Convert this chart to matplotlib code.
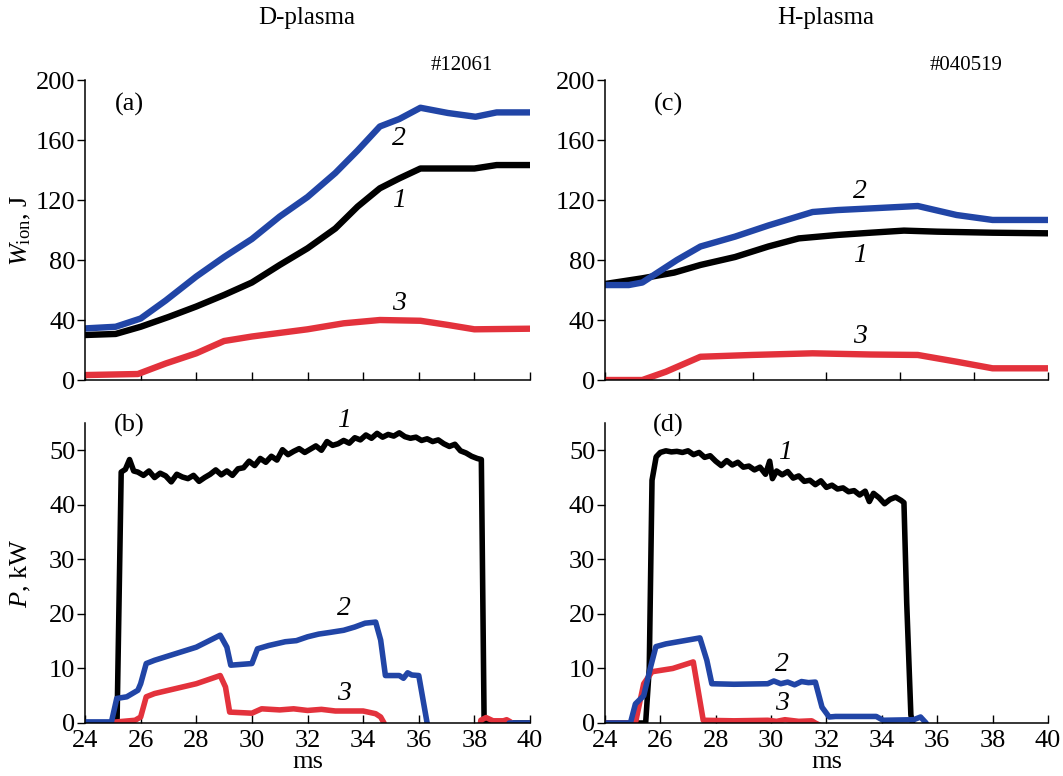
import numpy as np
import matplotlib
matplotlib.use("Agg")
import matplotlib.pyplot as plt

plt.rcParams['font.family'] = ['Liberation Serif', 'DejaVu Serif']
plt.rcParams['mathtext.fontset'] = 'custom'
plt.rcParams['mathtext.rm'] = 'Liberation Serif'
plt.rcParams['mathtext.it'] = 'Liberation Serif:italic'

BLUE = '#2145a6'
RED = '#e3323c'
BLACK = 'black'

#%% (a) D-plasma, ion energy content
a_t1 = [24, 25.1, 26, 27, 28, 29, 30, 31, 32, 33, 33.8, 34.6, 35.3, 36.06, 38, 38.8, 40]
a_w1 = [30, 30.7, 35.5, 42, 49, 56.7, 65, 76.7, 87.8, 101, 115.6, 127.8, 134.4, 141, 141, 143.3, 143.3]
a_t2 = [24, 25.1, 26, 26.9, 28, 29, 30, 31, 32, 33, 33.8, 34.6, 35.3, 36.06, 37.05, 38.04, 38.8, 40]
a_w2 = [34.4, 35.5, 41, 53, 69, 82, 94, 109, 122, 138, 153, 169, 174, 181.5, 178, 175.5, 178.4, 178.4]
a_t3 = [24, 25.9, 26.9, 28, 29, 30, 32, 33.3, 34.6, 36.06, 37.05, 38, 40]
a_w3 = [3.3, 4, 11, 17.8, 26, 29, 33.8, 37.8, 40, 39.5, 36.7, 33.8, 34.2]

#%% (c) H-plasma, ion energy content
c_t1 = [24, 25.35, 26.5, 27.45, 28.7, 29.9, 31, 32.4, 33.6, 34.8, 36, 38, 40]
c_w1 = [64, 67.8, 71.6, 76.7, 82, 89, 94.4, 96.7, 98.2, 99.6, 98.9, 98.2, 97.8]
c_t2 = [24, 24.86, 25.35, 25.85, 26.6, 27.45, 28.7, 29.9, 31.5, 32.4, 33.6, 35.3, 36.7, 38, 40]
c_w2 = [63.3, 63.3, 65, 71, 80, 89, 95.6, 103, 112, 113.3, 114.4, 116, 110, 106.7, 106.7]
c_t3 = [24, 25.35, 26.2, 27.45, 29.3, 31.5, 33.6, 35.3, 36.7, 38, 40]
c_w3 = [0, 0, 5.5, 15.5, 16.7, 17.8, 17, 16.7, 12.2, 7.8, 7.8]

#%% (b) D-plasma, power
b_t1 = [24.0, 25.15, 25.3, 25.45, 25.6, 25.75, 25.9, 26.1, 26.3, 26.5,
        26.7, 26.9, 27.1, 27.3, 27.5, 27.7, 27.9, 28.1, 28.3, 28.5,
        28.7, 28.9, 29.1, 29.3, 29.5, 29.7, 29.9, 30.1, 30.3, 30.5,
        30.7, 30.9, 31.1, 31.3, 31.5, 31.7, 31.9, 32.1, 32.3, 32.5,
        32.7, 32.9, 33.1, 33.3, 33.5, 33.7, 33.9, 34.1, 34.3, 34.5,
        34.7, 34.9, 35.1, 35.3, 35.5, 35.7, 35.9, 36.1, 36.3, 36.5,
        36.7, 36.9, 37.1, 37.3, 37.5, 37.7, 37.9, 38.1, 38.25, 38.35, 40]
b_p1 = [0, 0, 46, 46.5, 48.3, 46.2, 46.0, 45.4, 46.2, 45.0,
        45.8, 45.3, 44.2, 45.6, 45.1, 44.8, 45.4, 44.3, 45.0, 45.6,
        46.4, 45.5, 46.2, 45.4, 46.6, 46.8, 48.0, 47.2, 48.5, 47.8,
        48.9, 48.2, 50.1, 49.2, 49.8, 50.3, 49.6, 50.2, 50.8, 50.0,
        51.6, 50.9, 51.2, 51.8, 51.3, 52.3, 51.9, 52.8, 52.2, 53.1,
        52.4, 52.9, 52.6, 53.2, 52.5, 52.2, 52.4, 51.8, 52.1, 51.6,
        51.9, 51.2, 50.7, 51.1, 49.9, 49.5, 48.9, 48.5, 48.3, 0, 0]
b_t2 = [24, 24.95, 25.14, 25.5, 25.9, 26, 26.2, 26.5, 28, 28.86, 29.1, 29.24, 30,
        30.2, 30.6, 31.2, 31.6, 32, 32.4, 32.8, 33.3, 33.7, 34.07, 34.45, 34.63, 34.8,
        35.3, 35.45, 35.6, 35.75, 36, 36.3, 36.35, 39.2, 39.25, 40]
b_p2 = [0.2, 0.2, 4.5, 4.8, 6, 7.2, 10.9, 11.5, 13.9, 16.1, 13.9, 10.6, 10.9,
        13.6, 14.2, 14.9, 15.1, 15.8, 16.3, 16.6, 17.0, 17.6, 18.3, 18.5, 15.2, 8.7,
        8.7, 8.2, 9.2, 8.8, 8.7, 0, -1, -1, 0, 0]
b_t3 = [25.14, 25.8, 26, 26.2, 26.5, 28, 28.86, 29.05, 29.2, 30, 30.35, 31, 31.5,
        32, 32.5, 33, 34, 34.45, 34.63, 34.75, 34.8, 38.2, 38.23, 38.42, 38.67,
        39.04, 39.16, 39.3, 39.35]
b_p3 = [0.2, 0.5, 1.1, 4.8, 5.4, 7.2, 8.7, 6.6, 2, 1.8, 2.6, 2.4, 2.6,
        2.3, 2.5, 2.2, 2.2, 1.7, 1.1, 0, -1, -1, 0.5, 1, 0.4,
        0.4, 0.6, 0.2, -1]

#%% (d) H-plasma, power
d_t1 = [24, 25.47, 25.6, 25.7, 25.85, 26.0, 26.2, 26.4, 26.6, 26.8,
        27.0, 27.2, 27.4, 27.6, 27.8, 28.0, 28.2, 28.4, 28.6, 28.8,
        29.0, 29.2, 29.4, 29.6, 29.8, 29.95, 30.05, 30.2, 30.4, 30.6,
        30.8, 31.0, 31.2, 31.4, 31.6, 31.8, 32.0, 32.2, 32.4, 32.6,
        32.8, 33.0, 33.2, 33.4, 33.55, 33.7, 33.9, 34.1, 34.3, 34.5,
        34.7, 34.8, 34.9, 35.05, 35.15, 40]
d_p1 = [0, 0, 10, 44.5, 48.8, 49.6, 49.9, 49.7, 49.8, 49.6,
        49.9, 49.2, 49.6, 48.7, 49.0, 48.0, 47.2, 48.1, 47.3, 47.8,
        46.9, 47.1, 46.4, 46.9, 45.6, 48.0, 44.8, 46.2, 45.5, 46.1,
        44.9, 45.3, 44.3, 44.5, 43.7, 44.4, 43.2, 43.6, 42.9, 43.1,
        42.4, 42.6, 41.8, 42.5, 40.6, 42.1, 41.3, 40.2, 41.0, 41.4,
        40.8, 40.4, 22.0, 1.5, -1, -1]
d_t2 = [24, 24.92, 25.1, 25.4, 25.65, 25.84, 26.2, 27.43, 27.68, 27.86, 28.66, 29.88,
        30.1, 30.35, 30.6, 30.85, 31.1, 31.35, 31.6, 31.84, 32.1, 32.33, 33.8, 34.05,
        35.15, 35.4, 35.6, 35.65, 40]
d_p2 = [0, 0, 3.5, 5, 10.3, 14, 14.5, 15.6, 11.5, 7.2, 7.1, 7.2,
        7.7, 7.2, 7.5, 7.0, 7.6, 7.4, 7.5, 2.9, 1.1, 1.2, 1.2, 0.5,
        0.6, 1.1, 0, -1, -1]
d_t3 = [24, 25.1, 25.4, 25.7, 26.45, 27.19, 27.55, 28.66, 29.88, 30.2, 30.5, 31.0, 31.47, 31.6, 32]
d_p3 = [0, 0, 7.2, 9.4, 10, 11.2, 0.5, 0.4, 0.5, 0.3, 0.6, 0.3, 0.4, 0, -1]

#%%
def style_axes(ax, ylim, yticks, xticks, show_xlabels):
    for side in ['top', 'right']:
        ax.spines[side].set_visible(False)
    for side in ['left', 'bottom']:
        ax.spines[side].set_linewidth(1.1)
    ax.set_xlim(24, 40)
    ax.set_ylim(*ylim)
    ax.set_yticks(yticks)
    ax.set_xticks(xticks)
    ax.tick_params(axis='y', direction='out', length=6, width=1.0, labelsize=19, pad=1)
    ax.tick_params(axis='x', direction='in', length=6, width=1.0, labelsize=19, pad=5)
    if not show_xlabels:
        ax.set_xticklabels([])
    else:
        ax.set_xlabel('ms', fontsize=19)
        ax.xaxis.set_label_coords(0.5, -0.095)


def curve_labels(ax, spots):
    for txt, x, y in spots:
        ax.text(x, y, txt, fontsize=20, style='italic', ha='center', va='center')


fig = plt.figure(figsize=(10.63, 7.76), dpi=100)
ax_a = fig.add_axes([0.080, 0.5103, 0.4186, 0.3866])
ax_c = fig.add_axes([0.5691, 0.5103, 0.4167, 0.3866])
ax_b = fig.add_axes([0.080, 0.0683, 0.4186, 0.3866])
ax_d = fig.add_axes([0.5691, 0.0683, 0.4167, 0.3866])

lw_top = 4.6
lw_bot = 4.0

ax_a.plot(a_t1, a_w1, color=BLACK, lw=lw_top, solid_joinstyle='round')
ax_a.plot(a_t3, a_w3, color=RED, lw=lw_top, solid_joinstyle='round')
ax_a.plot(a_t2, a_w2, color=BLUE, lw=lw_top, solid_joinstyle='round')

ax_c.plot(c_t1, c_w1, color=BLACK, lw=lw_top, solid_joinstyle='round')
ax_c.plot(c_t3, c_w3, color=RED, lw=lw_top, solid_joinstyle='round')
ax_c.plot(c_t2, c_w2, color=BLUE, lw=lw_top, solid_joinstyle='round')

ax_b.plot(b_t1, b_p1, color=BLACK, lw=lw_bot, solid_joinstyle='round')
ax_b.plot(b_t3, b_p3, color=RED, lw=lw_bot, solid_joinstyle='round')
ax_b.plot(b_t2, b_p2, color=BLUE, lw=lw_bot, solid_joinstyle='round')

ax_d.plot(d_t1, d_p1, color=BLACK, lw=lw_bot, solid_joinstyle='round')
ax_d.plot(d_t3, d_p3, color=RED, lw=lw_bot, solid_joinstyle='round')
ax_d.plot(d_t2, d_p2, color=BLUE, lw=lw_bot, solid_joinstyle='round')

ms_ticks = np.arange(24, 41, 2)
style_axes(ax_a, (0, 200), np.arange(0, 201, 40), ms_ticks, False)
style_axes(ax_c, (0, 200), np.arange(0, 201, 40), np.linspace(24, 40, 7), False)
style_axes(ax_b, (0, 55), np.arange(0, 51, 10), ms_ticks, True)
style_axes(ax_d, (0, 55), np.arange(0, 51, 10), ms_ticks, True)

ax_a.set_ylabel(r'$\it{W}_{\rm ion}$, J', fontsize=19)
ax_a.yaxis.set_label_coords(-0.118, 0.5)
ax_b.set_ylabel(r'$\it{P}$, kW', fontsize=19)
ax_b.yaxis.set_label_coords(-0.118, 0.5)

for ax, tag, x, y in [(ax_a, '(a)', 25.6, 184), (ax_c, '(c)', 26.3, 184),
                      (ax_b, '(b)', 25.6, 54.6), (ax_d, '(d)', 26.3, 54.6)]:
    ax.text(x, y, tag, fontsize=19, ha='center', va='center')

curve_labels(ax_a, [('2', 35.3, 161), ('1', 35.3, 120), ('3', 35.3, 51)])
curve_labels(ax_c, [('2', 33.2, 126), ('1', 33.2, 83), ('3', 33.2, 29)])
curve_labels(ax_b, [('1', 33.3, 55.5), ('2', 33.3, 21), ('3', 33.3, 5.4)])
curve_labels(ax_d, [('1', 30.5, 49.5), ('2', 30.4, 10.8), ('3', 30.4, 3.5)])

fig.text(307 / 1063, 1 - 18 / 776, 'D-plasma', fontsize=18, ha='center', va='center')
fig.text(826 / 1063, 1 - 18 / 776, 'H-plasma', fontsize=18, ha='center', va='center')
fig.text(462 / 1063, 1 - 66 / 776, '#12061', fontsize=15, ha='center', va='center')
fig.text(966 / 1063, 1 - 66 / 776, '#040519', fontsize=15, ha='center', va='center')

fig.savefig('out.png', dpi=100)
